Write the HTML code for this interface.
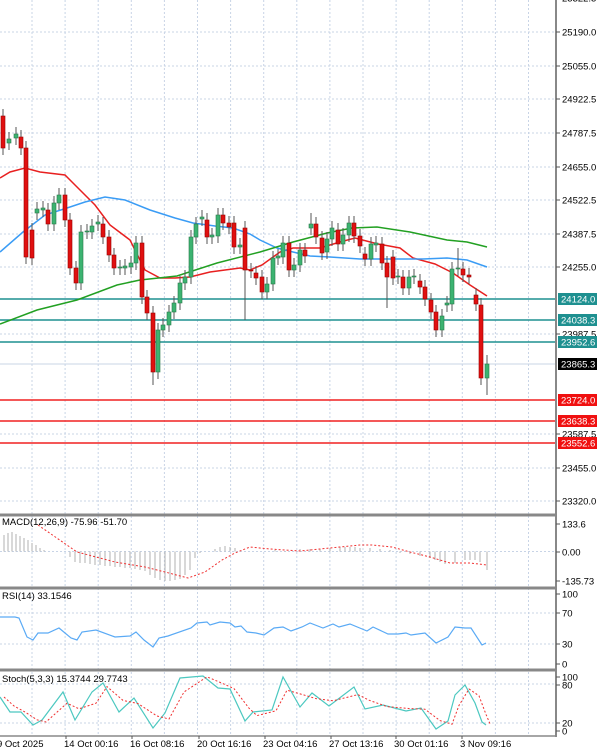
<!DOCTYPE html>
<html><head><meta charset="utf-8"><style>
body{margin:0;background:#fff;width:600px;height:750px;overflow:hidden}
svg{display:block;font-family:"Liberation Sans",sans-serif;font-size:9.5px}
</style></head><body>
<svg id="s" width="600" height="750" xmlns="http://www.w3.org/2000/svg">
<rect width="600" height="750" fill="#fff"/>
<g id="grid" stroke="#c8d4e6" stroke-width="1" stroke-dasharray="2,2"></g>
<g id="hl"></g>
<g id="ma" fill="none" stroke-width="1.5">
<polyline stroke="#e82020" points="0,178 10,172 25,168 40,172 65,175 75,185 95,205 110,225 130,240 145,270 160,278 175,278 190,277 210,272 240,268 250,270 262,265 280,252 293,248 320,248 340,242 355,238 378,244 400,248 413,258 435,264 453,273 470,285 487,296"/>
<polyline stroke="#3a9cf5" points="0,252 23,232 45,215 67,208 85,202 105,197 125,200 150,210 175,218 193,223 215,226 233,228 250,234 260,240 277,248 293,252 310,256 330,257 360,259 390,259 423,259 447,258 467,260 487,267"/>
<polyline stroke="#22a022" points="0,324 37,310 77,300 117,285 140,280 177,276 217,263 260,252 293,242 327,233 352,228 377,227 410,232 447,240 467,242 487,247"/>
</g>
<g id="cd"></g>
<g id="panels"></g>
<g id="lab" fill="#000"></g>
</svg>
<script>
const NS="http://www.w3.org/2000/svg";
function el(p,t,a,txt){const e=document.createElementNS(NS,t);for(const k in a)e.setAttribute(k,a[k]);if(txt!==undefined)e.textContent=txt;document.getElementById(p).appendChild(e);return e;}
for(let x=32;x<555;x+=33.1)el('grid','line',{x1:x,y1:0,x2:x,y2:735});
const py=[32,66,99,133,167,200,234,267,334,434,468,501];
py.forEach(y=>el('grid','line',{x1:0,y1:y,x2:555,y2:y}));
[551.5,613,644,684,723].forEach(y=>el('grid','line',{x1:0,y1:y,x2:555,y2:y}));
[[299,'#1e9090'],[320,'#1e9090'],[342,'#1e9090'],[400,'#f02020'],[421,'#f02020'],[443,'#f02020']].forEach(a=>el('hl','line',{x1:0,y1:a[0],x2:555,y2:a[0],stroke:a[1],'stroke-width':1.5}));
el('hl','line',{x1:0,y1:364,x2:555,y2:364,stroke:'#c8d4e6','stroke-width':1});
const C=[[3,116,148],[9,143,139],[16,138,134],[21,137,148],[26,148,257],[32,230,258],[37,213,209],[43,210,208],[48,210,224],[54,224,203],[59,203,195],[65,195,220],[70,220,268],[76,268,283],[81,283,232],[87,232,231],[92,232,226],[98,224,222],[103,224,237],[109,237,255],[114,255,268],[120,268,267],[125,268,266],[131,267,263],[136,263,243],[142,243,297],[147,297,313],[153,313,372,0,385],[158,372,330],[163,330,325],[169,325,312],[174,312,303],[180,303,283],[185,283,277],[191,277,237],[196,237,224],[202,219,217],[207,220,237],[212,237,235],[218,236,215],[223,215,223],[229,223,227],[234,223,247],[240,247,245],[245,228,270,0,320],[251,270,271],[256,273,278],[262,277,292],[267,292,284],[273,284,258],[278,258,256],[283,257,243],[289,243,270],[294,270,265],[300,265,250],[305,250,256],[311,228,224,213],[316,224,237],[322,238,253],[327,252,239],[332,239,228],[338,230,244],[343,244,235],[349,235,223],[354,223,236],[360,236,246],[365,254,259],[371,259,244],[376,245,243],[382,244,263],[387,263,277,0,308],[393,257,278],[398,277,276],[403,277,288],[409,288,277],[414,277,276],[420,281,287],[425,287,299],[431,300,312],[436,312,330],[442,330,316],[447,305,303],[452,304,269],[458,269,268,248],[463,269,275],[469,275,277],[476,295,304],[481,305,378],[487,378,364,355,395]];
C.forEach(c=>{const [x,o,cl]=c;const t=Math.min(o,cl),b=Math.max(o,cl);const h=c[3]||t-7,l=c[4]||b+7;
el('cd','line',{x1:x,y1:h,x2:x,y2:l,stroke:'#555','stroke-width':1});
const up=cl<o;el('cd','rect',{x:x-2,y:t,width:4,height:Math.max(b-t,1),fill:up?'#3cb371':'#e01010',stroke:up?'#2a7a4a':'#900','stroke-width':0.6});});
[[515],[588],[670]].forEach(a=>el('panels','rect',{x:0,y:a[0]-1.5,width:556,height:3,fill:'#888'}));
el('panels','rect',{x:555,y:0,width:2,height:737,fill:'#888'});
el('panels','line',{x1:0,y1:736,x2:557,y2:736,stroke:'#888','stroke-width':1.5});
const hist=[[4,535],[8,533],[12,532],[16,534],[20,536],[24,538],[28,540],[32,543],[36,545],[40,548],[44,550],[70,557],[75,562],[80,563],[85,563],[90,564],[95,565],[100,565],[105,566],[110,566],[115,567],[120,567],[125,568],[130,568],[135,569],[140,570],[145,571],[150,575],[155,578],[160,580],[165,581],[170,581],[175,580],[180,579],[185,575],[190,570],[195,558],[200,553],[215,549],[220,547],[225,546],[230,547],[235,548],[275,550],[285,552],[300,549],[310,549],[320,549],[330,548],[340,547],[345,547],[350,547],[355,547],[360,548],[370,548],[380,549],[390,550],[400,553],[410,554],[420,556],[430,558],[435,560],[440,562],[445,564],[455,563],[465,560],[470,560],[475,560],[480,562],[487,570]];
hist.forEach(h=>el('panels','line',{x1:h[0],y1:551.5,x2:h[0],y2:h[1],stroke:'#b0b0b0','stroke-width':1}));
el('panels','polyline',{points:'38,525 77,552 115,562 145,567 165,572 188,578 205,572 222,560 235,553 250,547 270,549 300,551 320,549 340,547 360,545 372,545 392,547 410,552 430,557 450,563 470,563 487,565',fill:'none',stroke:'#f03030','stroke-width':1,'stroke-dasharray':'2,2'});
el('panels','polyline',{points:'0,617 15,617 19,618 27,637 33,640 38,633 48,633 59,628 71,638 77,640 82,632 96,630 115,637 130,636 136,632 144,640 153,647 159,638 168,636 191,628 197,623 207,622 210,625 220,622 230,623 235,627 241,626 247,632 256,633 264,635 274,628 283,627 291,631 302,627 310,623 323,628 333,624 339,627 350,624 367,631 373,627 388,634 398,634 406,633 411,635 425,633 436,643 448,637 455,627 465,628 471,628 482,645 486,643',fill:'none',stroke:'#5aaaf5','stroke-width':1.2});
const st=[[0,697],[10,712],[21,712],[33,725],[42,720],[63,692],[75,720],[92,692],[103,683],[119,712],[134,698],[153,728],[165,713],[180,678],[203,676],[218,688],[230,689],[245,721],[253,712],[272,710],[283,677],[300,707],[312,693],[329,706],[354,687],[365,709],[383,705],[406,711],[421,708],[436,729],[448,721],[455,695],[465,685],[475,703],[482,722],[486,725]];
el('panels','polyline',{points:st.map(p=>p.join(',')).join(' '),fill:'none',stroke:'#4cc8c0','stroke-width':1.2});
const sg=st.map((p,i)=>{const a=st[Math.max(0,i-1)][1];return [p[0]+4,(p[1]*0.6+a*0.4)];});
el('panels','polyline',{points:sg.map(p=>p[0]+','+p[1].toFixed(1)).join(' '),fill:'none',stroke:'#f03030','stroke-width':1,'stroke-dasharray':'2,2'});
const pl=[[32,'25190.0'],[66,'25055.0'],[99,'24922.5'],[133,'24787.5'],[167,'24655.0'],[200,'24522.5'],[234,'24387.5'],[267,'24255.0'],[334,'23987.5'],[434,'23587.5'],[468,'23455.0'],[501,'23320.0'],[-2,'25322.5'],[524,'133.6'],[552,'0.00'],[581,'-135.73'],[594,'100'],[613,'70'],[644,'30'],[664,'0'],[677,'100'],[685,'80'],[723,'20'],[731,'0']];
pl.forEach(p=>{el('lab','line',{x1:556,y1:p[0],x2:560,y2:p[0],stroke:'#555'});el('lab','text',{x:562,y:p[0]+3.5},p[1]);});
const bx=[[299,'24124.0','#1e9090'],[320,'24038.3','#1e9090'],[342,'23952.6','#1e9090'],[364,'23865.3','#000'],[400,'23724.0','#f01010'],[421,'23638.3','#f01010'],[443,'23552.6','#f01010']];
bx.forEach(b=>{el('lab','rect',{x:558,y:b[0]-6,width:39,height:12,fill:b[2]});el('lab','text',{x:561,y:b[0]+3.5,fill:'#fff'},b[1]);});
el('lab','text',{x:2,y:525},'MACD(12,26,9) -75.96 -51.70');
el('lab','text',{x:2,y:599},'RSI(14) 33.1546');
el('lab','text',{x:2,y:682},'Stoch(5,3,3) 15.3744 29.7743');
[[-3,'9 Oct 2025'],[64,'14 Oct 00:16'],[130,'16 Oct 08:16'],[197,'20 Oct 16:16'],[263,'23 Oct 04:16'],[329,'27 Oct 13:16'],[394,'30 Oct 01:16'],[460,'3 Nov 09:16']].forEach(t=>{el('lab','text',{x:t[0],y:747},t[1]);el('lab','line',{x1:t[0]+2,y1:736,x2:t[0]+2,y2:739,stroke:'#555'});});
</script>
</body></html>
